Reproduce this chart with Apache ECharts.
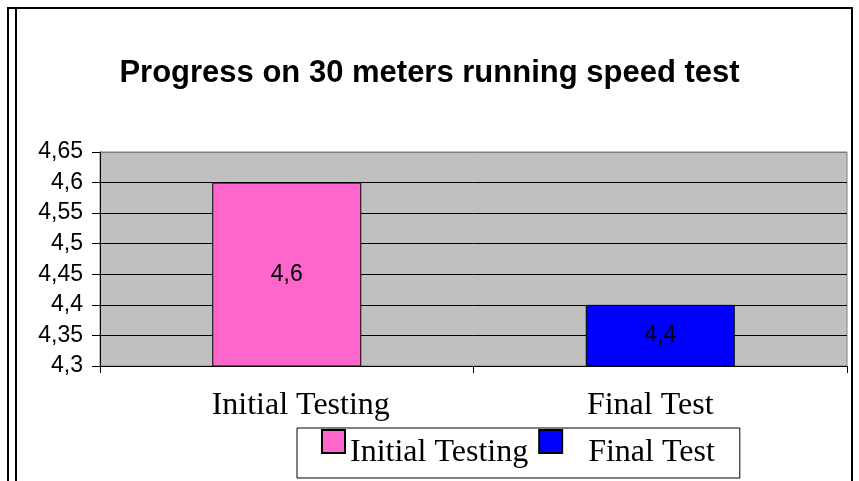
<!DOCTYPE html>
<html>
<head>
<meta charset="utf-8">
<script src="https://cdn.jsdelivr.net/npm/echarts@6/dist/echarts.min.js"></script>
<style>
  html, body { margin: 0; padding: 0; background: #fff; }
  #chart { width: 859px; height: 481px; }
</style>
</head>
<body>
<div id="chart"></div>
<script>
const categories = ['Initial Testing', 'Final Test']
const initialValues = [4.6, '-']
const finalValues = ['-', 4.4]
const yTicks = { min: 4.3, max: 4.65, interval: 0.05 }

const comma = (v) => String(+(+v).toFixed(2)).replace('.', ',')
const serif = '"Liberation Serif", "Times New Roman", serif'
const sans = '"Liberation Sans", Arial, sans-serif'
// the original's category labels sit a little off-centre
const labelPads = [[0, 0, 0, 28], [0, 20, 0, 0]]

const chart = echarts.init(document.getElementById('chart'))

const barLabel = {
  show: true, position: 'inside', fontFamily: sans, fontSize: 23, color: '#000',
  formatter: (p) => comma(p.value),
}

chart.setOption({
  animation: false,
  title: {
    text: 'Progress on 30 meters running speed test',
    left: 'center',
    top: 53,
    textStyle: { fontFamily: sans, fontWeight: 'bold', fontSize: 31, color: '#000' },
  },
  grid: {
    left: 100, right: 12, top: 152, bottom: 115,
    show: true, backgroundColor: '#C0C0C0', borderColor: '#808080', borderWidth: 1,
  },
  legend: {
    left: 297,
    top: 428,
    padding: [1, 25, 1, 24],
    itemGap: 10,
    itemWidth: 23,
    itemHeight: 46,
    icon: 'path://M0,0H23V23H0Z M0,46',
    backgroundColor: '#fff',
    borderColor: '#000',
    borderWidth: 1,
    textStyle: { fontFamily: serif, fontSize: 32, color: '#000' },
    data: [
      { name: 'Initial Testing' },
      { name: 'Final Test', textStyle: { padding: [0, 0, 0, 21] } },
    ],
  },
  xAxis: {
    type: 'category',
    data: categories.map((c, i) => ({ value: c, textStyle: { padding: labelPads[i] } })),
    axisLine: { lineStyle: { color: '#000', width: 1 } },
    axisTick: { show: true, length: 7, lineStyle: { color: '#000' } },
    axisLabel: { fontFamily: serif, fontSize: 32, color: '#000', margin: 24 },
    splitLine: { show: false },
  },
  yAxis: {
    type: 'value',
    min: yTicks.min,
    max: yTicks.max,
    interval: yTicks.interval,
    axisLine: { show: true, lineStyle: { color: '#000', width: 1 } },
    axisTick: { show: true, length: 8, lineStyle: { color: '#000' } },
    axisLabel: { fontFamily: sans, fontSize: 23, color: '#000', margin: 17, formatter: comma },
    splitLine: {
      lineStyle: { color: ['#000', '#000', '#000', '#000', '#000', '#000', '#000', '#808080'], width: 1 },
    },
  },
  series: [
    {
      name: 'Initial Testing',
      type: 'bar',
      data: initialValues,
      barWidth: 149,
      barGap: '-100%',
      itemStyle: { color: '#FF66CC', borderColor: '#000', borderWidth: 1 },
      label: barLabel,
    },
    {
      name: 'Final Test',
      type: 'bar',
      data: finalValues,
      barWidth: 149,
      barGap: '-100%',
      itemStyle: { color: '#0000FF', borderColor: '#000', borderWidth: 1 },
      label: barLabel,
    },
  ],
  graphic: [
    { type: 'rect', silent: true, shape: { x: 8, y: 8, width: 844, height: 500 }, style: { fill: 'none', stroke: '#000', lineWidth: 2 } },
    { type: 'line', silent: true, shape: { x1: 16, y1: 8, x2: 16, y2: 481 }, style: { stroke: '#000', lineWidth: 2 } },
  ],
})
</script>
</body>
</html>
